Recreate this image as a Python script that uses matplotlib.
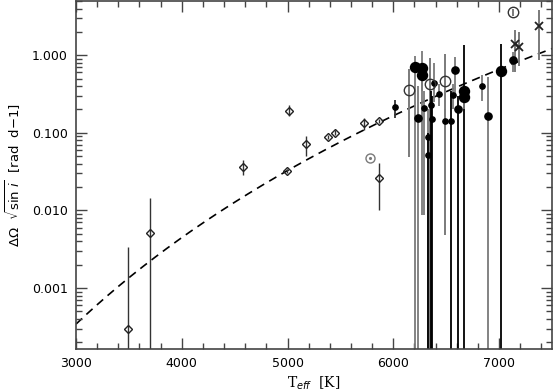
import numpy as np
import matplotlib
matplotlib.use("Agg")
import matplotlib.pyplot as plt
from matplotlib.ticker import MultipleLocator, LogLocator, FormatStrFormatter, NullFormatter

# diamonds (open)
teff_dia = [3490, 3700, 4580, 4995, 5015, 5170, 5380, 5450, 5725, 5860, 5860]
dom_dia = [3.0e-4, 5.1e-3, 0.036, 0.032, 0.194, 0.071, 0.089, 0.101, 0.132, 0.142, 0.026]
lo_dia = [1e-6, 1e-6, 0.0285, 0.030, 0.165, 0.051, 0.083, 0.094, 0.108, 0.132, 0.0101]
hi_dia = [3.35e-3, 0.0144, 0.0445, 0.034, 0.228, 0.091, 0.095, 0.108, 0.155, 0.152, 0.0404]

# the Sun
teff_sun = [5775]
dom_sun = [0.047]

# small filled dots
teff_sm = [6020, 6290, 6355, 6365, 6325, 6330, 6435, 6385, 6485, 6545, 6560, 6835]
dom_sm = [0.216, 0.208, 0.227, 0.150, 0.089, 0.052, 0.315, 0.440, 0.142, 0.142, 0.306, 0.405]
lo_sm = [0.155, 0.0087, 1e-6, 1e-6, 1e-6, 1e-6, 0.22, 0.25, 0.08, 1e-6, 0.2, 0.256]
hi_sm = [0.264, 0.35, 0.35, 0.30, 0.2, 0.1, 0.42, 0.79, 0.2, 0.35, 0.42, 0.553]

# medium filled dots
teff_md = [6230, 6585, 6610, 6895, 7135]
dom_md = [0.155, 0.651, 0.202, 0.166, 0.862]
lo_md = [1e-6, 0.33, 1e-6, 1e-6, 0.6]
hi_md = [0.40, 0.95, 0.30, 0.526, 1.1]

# large filled dots
teff_lg = [6205, 6270, 6270, 6670, 6670, 7015]
dom_lg = [0.701, 0.680, 0.553, 0.344, 0.292, 0.622]
lo_lg = [1e-6, 0.0087, 0.35, 1e-6, 0.2, 1e-6]
hi_lg = [0.97, 1.13, 0.8, 1.35, 0.4, 1.41]

# open circles
teff_oc = [6145, 6350, 6485, 7135]
dom_oc = [0.360, 0.424, 0.470, 3.61]
lo_oc = [0.0486, 1e-6, 0.0048, 3.2]
hi_oc = [0.661, 0.91, 1.03, 4.0]

# crosses
teff_x = [7150, 7185, 7380]
dom_x = [1.41, 1.28, 2.36]
lo_x = [0.604, 0.72, 0.862]
hi_x = [2.10, 1.97, 3.79]

# power-law fit  dOmega = A * (T/5000)^n
fit_a = 0.0327
fit_n = 8.92

GREY = '#7a7a7a'
plt.rcParams.update({'font.size': 9, 'font.family': 'DejaVu Sans'})

fig = plt.figure(figsize=(5.53, 3.91), dpi=100)
ax = fig.add_axes([76 / 553, 1 - 349 / 391, 476 / 553, 348 / 391])

# error bars (dark ones drawn in black)
ax.vlines(teff_dia, lo_dia, hi_dia, color='#333333', lw=1.0, zorder=2)
ax.vlines(teff_oc, lo_oc, hi_oc, color=GREY, lw=1.4, zorder=2)
ax.vlines(teff_x, lo_x, hi_x, color=GREY, lw=1.4, zorder=2)
sm_cols = ['#333333', GREY, 'k', 'k', GREY, 'k', GREY, GREY, GREY, 'k', GREY, GREY]
md_cols = [GREY, GREY, 'k', GREY, GREY]
lg_cols = [GREY, GREY, GREY, 'k', GREY, 'k']
ax.vlines(teff_sm, lo_sm, hi_sm, colors=sm_cols, lw=1.3, zorder=2)
ax.vlines(teff_md, lo_md, hi_md, colors=md_cols, lw=1.3, zorder=2)
ax.vlines(teff_lg, lo_lg, hi_lg, colors=lg_cols, lw=1.3, zorder=2)

# fit curve
tt = np.linspace(3000, 7500, 200)
ax.plot(tt, fit_a * (tt / 5000.0) ** fit_n, ls=(0, (5, 3.5)), color='k', lw=1.2, zorder=1)

# symbols
ax.plot(teff_dia, dom_dia, 'D', ms=4, mfc='none', mec='#222222', mew=1.0, ls='none', zorder=3)
ax.plot(teff_sun, dom_sun, 'o', ms=6.5, mfc='none', mec=GREY, mew=1.0, ls='none', zorder=3)
ax.plot(teff_sun, dom_sun, '.', ms=2.5, color=GREY, ls='none', zorder=3)
ax.plot(teff_sm, dom_sm, 'o', ms=3.8, color='k', ls='none', zorder=3)
ax.plot(teff_md, dom_md, 'o', ms=5.2, color='k', ls='none', zorder=3)
ax.plot(teff_lg, dom_lg, 'o', ms=7.2, color='k', ls='none', zorder=3)
ax.plot(teff_oc, dom_oc, 'o', ms=7.5, mfc='none', mec='#333333', mew=1.0, ls='none', zorder=3)
ax.plot(teff_x, dom_x, 'x', ms=6, color='#222222', mew=1.3, ls='none', zorder=3)

ax.set_yscale('log')
ax.set_xlim(3000, 7500)
ax.set_ylim(1.64e-4, 5.0)

ax.xaxis.set_major_locator(MultipleLocator(1000))
ax.xaxis.set_minor_locator(MultipleLocator(200))
ax.yaxis.set_major_locator(LogLocator(base=10, numticks=10))
ax.yaxis.set_minor_locator(LogLocator(base=10, subs=np.arange(2, 10), numticks=20))
ax.yaxis.set_major_formatter(FormatStrFormatter('%.3f'))
ax.yaxis.set_minor_formatter(NullFormatter())

ax.tick_params(which='both', direction='in', top=True, right=True, color='#444444')
ax.tick_params(which='major', length=8, width=1.0, pad=6)
ax.tick_params(which='minor', length=4.5, width=1.0)
for s in ax.spines.values():
    s.set_color('#444444')
    s.set_linewidth(1.2)

ax.set_xlabel(r'T$_{\it eff}$  [K]', family='DejaVu Serif', fontsize=10, labelpad=3)
ax.set_ylabel(r'$\Delta\Omega\ \ \sqrt{\sin\, i}$  [rad  d$-$1]', fontsize=9.5, labelpad=6)

fig.savefig('out.png', dpi=100)
